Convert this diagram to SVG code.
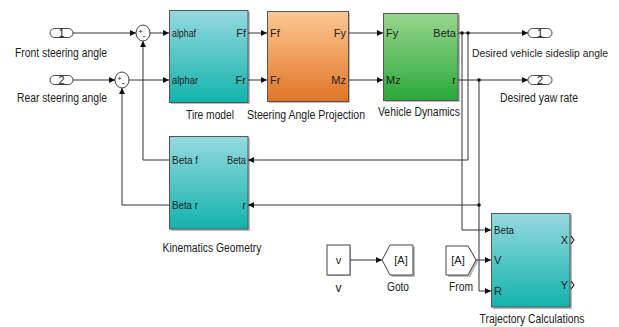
<svg xmlns="http://www.w3.org/2000/svg" width="619" height="327" viewBox="0 0 619 327">
<defs>
<linearGradient id="gTeal" x1="0" y1="0" x2="0" y2="1"><stop offset="0" stop-color="#96d9df"/><stop offset="1" stop-color="#12b3ac"/></linearGradient>
<linearGradient id="gOrange" x1="0" y1="0" x2="0" y2="1"><stop offset="0" stop-color="#fdc892"/><stop offset="1" stop-color="#e07526"/></linearGradient>
<linearGradient id="gGreen" x1="0" y1="0" x2="0" y2="1"><stop offset="0" stop-color="#97d58c"/><stop offset="1" stop-color="#2aa93c"/></linearGradient>
<marker id="arr" viewBox="0 0 6 6" refX="6" refY="3" markerWidth="6" markerHeight="6" markerUnits="userSpaceOnUse" orient="auto"><path d="M0,0 L6,3 L0,6 Z" fill="#111"/></marker>
</defs>
<style>
text{font-family:"Liberation Sans",Arial,sans-serif;fill:#222}
.lbl{font-size:12px}
.port{font-size:11px}
.blk{stroke:#555;stroke-width:1}
.shadow{fill:#bbb}
.wire{fill:none;stroke:#333;stroke-width:1}
.wa{fill:none;stroke:#333;stroke-width:1;marker-end:url(#arr)}
.io{fill:#fff;stroke:#444;stroke-width:1}
.dot{fill:#111}
</style>
<rect width="619" height="327" fill="#fff"/>

<g id="in1">
<rect class="io" x="50" y="28.5" width="23" height="9" rx="4.5"/>
<text class="port" x="61.5" y="37" text-anchor="middle">1</text>
<text class="lbl" x="61" y="57" text-anchor="middle" textLength="92" lengthAdjust="spacingAndGlyphs">Front steering angle</text>
</g>
<g id="in2">
<rect class="io" x="50" y="75.5" width="23" height="9" rx="4.5"/>
<text class="port" x="61.5" y="84" text-anchor="middle">2</text>
<text class="lbl" x="62" y="102" text-anchor="middle" textLength="90" lengthAdjust="spacingAndGlyphs">Rear steering angle</text>
</g>
<g id="sum1">
<ellipse class="io" cx="143" cy="33" rx="7" ry="8"/>
<text x="140.5" y="34" font-size="8" text-anchor="middle">+</text>
<text x="144" y="39" font-size="9" text-anchor="middle">-</text>
</g>
<g id="sum2">
<ellipse class="io" cx="122" cy="80" rx="7" ry="8"/>
<text x="119.5" y="81" font-size="8" text-anchor="middle">+</text>
<text x="123" y="86" font-size="9" text-anchor="middle">-</text>
</g>

<g id="tire">
<rect class="shadow" x="171" y="12" width="79" height="92"/>
<rect class="blk" x="169.5" y="10.5" width="78.5" height="92" fill="url(#gTeal)"/>
<text class="port" x="172" y="37" textLength="24" lengthAdjust="spacingAndGlyphs">alphaf</text>
<text class="port" x="172" y="84" textLength="26" lengthAdjust="spacingAndGlyphs">alphar</text>
<text class="port" x="246" y="37" text-anchor="end">Ff</text>
<text class="port" x="246" y="84" text-anchor="end">Fr</text>
<text class="lbl" x="210" y="119" text-anchor="middle" textLength="48" lengthAdjust="spacingAndGlyphs">Tire model</text>
</g>
<g id="sap">
<rect class="shadow" x="269" y="13" width="81" height="90"/>
<rect class="blk" x="267.5" y="11.5" width="81" height="90" fill="url(#gOrange)"/>
<text class="port" x="270" y="37">Ff</text>
<text class="port" x="270" y="84">Fr</text>
<text class="port" x="346" y="37" text-anchor="end">Fy</text>
<text class="port" x="346" y="84" text-anchor="end">Mz</text>
<text class="lbl" x="306" y="119" text-anchor="middle" textLength="118" lengthAdjust="spacingAndGlyphs">Steering Angle Projection</text>
</g>
<g id="vd">
<rect class="shadow" x="385" y="15" width="75" height="87"/>
<rect class="blk" x="383.5" y="13.5" width="74.5" height="87" fill="url(#gGreen)"/>
<text class="port" x="386" y="37">Fy</text>
<text class="port" x="386" y="84">Mz</text>
<text class="port" x="456" y="37" text-anchor="end">Beta</text>
<text class="port" x="456" y="84" text-anchor="end">r</text>
<text class="lbl" x="419" y="116" text-anchor="middle" textLength="82" lengthAdjust="spacingAndGlyphs">Vehicle Dynamics</text>
</g>

<g id="out1">
<rect class="io" x="528" y="28.5" width="24" height="9" rx="4.5"/>
<text class="port" x="540" y="37" text-anchor="middle">1</text>
<text x="540" y="57" font-size="11" text-anchor="middle" textLength="136" lengthAdjust="spacingAndGlyphs">Desired vehicle sideslip angle</text>
</g>
<g id="out2">
<rect class="io" x="528" y="75.5" width="24" height="9" rx="4.5"/>
<text class="port" x="540" y="84" text-anchor="middle">2</text>
<text class="lbl" x="539" y="102" text-anchor="middle" textLength="78" lengthAdjust="spacingAndGlyphs">Desired yaw rate</text>
</g>

<g id="kin">
<rect class="shadow" x="171" y="138" width="79" height="93"/>
<rect class="blk" x="169.5" y="136.5" width="78.5" height="92.5" fill="url(#gTeal)"/>
<text class="port" x="172" y="164" textLength="26" lengthAdjust="spacingAndGlyphs">Beta f</text>
<text class="port" x="172" y="209" textLength="26" lengthAdjust="spacingAndGlyphs">Beta r</text>
<text class="port" x="246" y="164" text-anchor="end" textLength="19" lengthAdjust="spacingAndGlyphs">Beta</text>
<text class="port" x="246" y="209" text-anchor="end">r</text>
<text class="lbl" x="212" y="252" text-anchor="middle" textLength="99" lengthAdjust="spacingAndGlyphs">Kinematics Geometry</text>
</g>

<g id="v">
<rect class="shadow" x="328" y="246" width="23" height="30"/>
<rect class="io" x="327" y="245" width="23" height="30"/>
<text class="port" x="338.5" y="264" text-anchor="middle">v</text>
<text class="lbl" x="338.5" y="292" text-anchor="middle">v</text>
</g>
<g id="goto">
<path d="M384,262 L392,247 L415,247 L415,277 L392,277 Z" fill="#bbb"/>
<path class="io" d="M382,260 L390,245 L413,245 L413,275 L390,275 Z"/>
<text class="port" x="401" y="264" text-anchor="middle">[A]</text>
<text class="lbl" x="398" y="291" text-anchor="middle" textLength="22" lengthAdjust="spacingAndGlyphs">Goto</text>
</g>
<g id="from">
<path d="M448,248 L470,248 L478,262 L470,277 L448,277 Z" fill="#bbb"/>
<path class="io" d="M446,246 L468,246 L476,260 L468,275 L446,275 Z"/>
<text class="port" x="458" y="264" text-anchor="middle">[A]</text>
<text class="lbl" x="461" y="291" text-anchor="middle" textLength="24" lengthAdjust="spacingAndGlyphs">From</text>
</g>

<g id="traj">
<rect class="shadow" x="493" y="215" width="79" height="94"/>
<rect class="blk" x="491.5" y="213.5" width="78.5" height="93.5" fill="url(#gTeal)"/>
<text class="port" x="494" y="234" textLength="20" lengthAdjust="spacingAndGlyphs">Beta</text>
<text class="port" x="494" y="264">V</text>
<text class="port" x="494" y="295">R</text>
<text class="port" x="568" y="244" text-anchor="end">X</text>
<text class="port" x="568" y="289" text-anchor="end">Y</text>
<path d="M571,236 L574,240 L571,244" fill="none" stroke="#222" stroke-width="1.2"/>
<path d="M571,281 L574,285 L571,289" fill="none" stroke="#222" stroke-width="1.2"/>
<text class="lbl" x="532" y="323" text-anchor="middle" textLength="105" lengthAdjust="spacingAndGlyphs">Trajectory Calculations</text>
</g>

<g id="connectors">
<path class="wa" d="M73,33 H136"/>
<path class="wa" d="M150,33 H169"/>
<path class="wa" d="M73,80 H115"/>
<path class="wa" d="M129,80 H169"/>
<path class="wa" d="M248,33 H267"/>
<path class="wa" d="M248,80 H267"/>
<path class="wa" d="M349,33 H383"/>
<path class="wa" d="M349,80 H383"/>
<path class="wa" d="M458,33 H528"/>
<path class="wa" d="M458,80 H528"/>
<path class="wa" d="M462,33 V230 H491"/>
<path class="wa" d="M468,33 V160 H248"/>
<path class="wa" d="M479,80 V291 H491"/>
<path class="wa" d="M479,205 H248"/>
<path class="wa" d="M476,260 H491"/>
<path class="wa" d="M350,260 H382"/>
<path class="wa" d="M169,160 H143 V41"/>
<path class="wa" d="M169,205 H122 V88"/>
<circle class="dot" cx="462" cy="33" r="1.8"/>
<circle class="dot" cx="468" cy="33" r="1.8"/>
<circle class="dot" cx="479" cy="80" r="1.8"/>
<circle class="dot" cx="479" cy="205" r="1.8"/>
</g>
</svg>
